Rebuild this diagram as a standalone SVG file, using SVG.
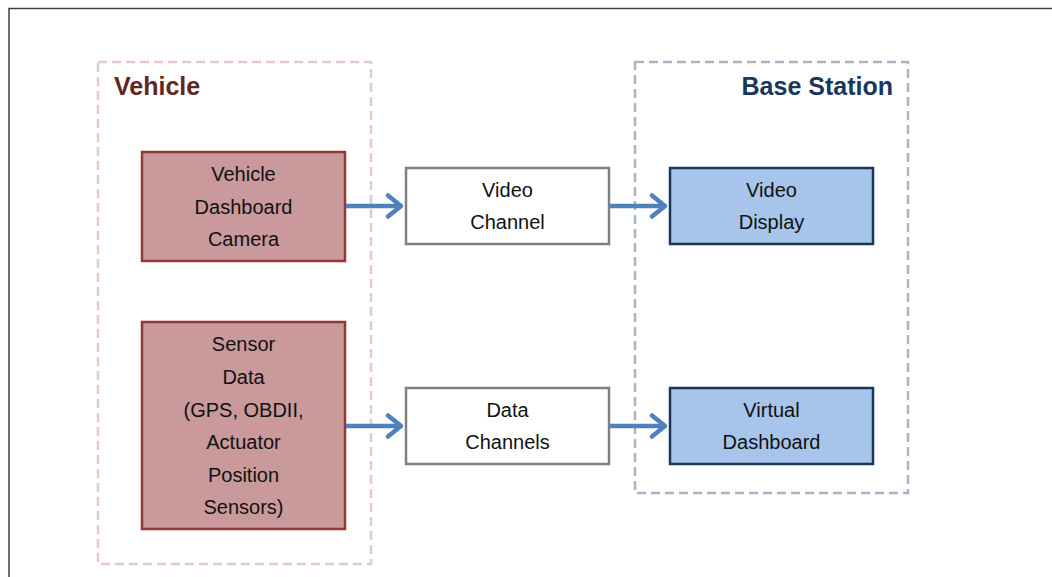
<svg xmlns="http://www.w3.org/2000/svg" width="1052" height="577" viewBox="0 0 1052 577">
  <defs>
    <marker id="chev" viewBox="0 0 12 12" refX="9" refY="6" markerWidth="12" markerHeight="12" markerUnits="userSpaceOnUse" orient="auto" overflow="visible">
      <path d="M-4,-4.5 L9,6 L-4,16.5" fill="none" stroke="#4f81bd" stroke-width="4.5" stroke-linecap="round" stroke-linejoin="round"/>
    </marker>
    <style>
      .frame { fill: none; stroke: #404040; stroke-width: 1.5; }
      .zone-veh { fill: none; stroke: #e6c9cc; stroke-width: 2.5; stroke-dasharray: 9 5; }
      .zone-base { fill: none; stroke: #a9b5c4; stroke-width: 2.5; stroke-dasharray: 9 5; }
      .src { fill: #c9999b; stroke: #953735; stroke-width: 2.5; }
      .chan { fill: #ffffff; stroke: #808080; stroke-width: 2.5; }
      .dst { fill: #a7c4ea; stroke: #1a3558; stroke-width: 2.5; }
      .lbl { font-family: "Liberation Sans", Arial, sans-serif; font-size: 20px; fill: #111111; text-anchor: middle; }
      .zone-title { font-family: "Liberation Sans", Arial, sans-serif; font-size: 25px; font-weight: bold; }
      .conn { fill: none; stroke: #4f81bd; stroke-width: 4.5; marker-end: url(#chev); }
    </style>
  </defs>

  <rect width="1052" height="577" fill="#ffffff"/>
  <!-- outer page frame, running off the right and bottom edges -->
  <path class="frame" d="M9,580 L9,8.5 L1055,8.5"/>

  <!-- grouping zones -->
  <g id="zone-vehicle">
    <rect class="zone-veh" x="98" y="62" width="273" height="502"/>
    <text class="zone-title" x="114" y="95" fill="#632523">Vehicle</text>
  </g>
  <g id="zone-base-station">
    <rect class="zone-base" x="635" y="62" width="273" height="431"/>
    <text class="zone-title" x="893" y="95" fill="#17375e" text-anchor="end">Base Station</text>
  </g>

  <!-- sources -->
  <g id="node-camera">
    <rect class="src" x="142" y="152" width="203" height="109"/>
    <text class="lbl" x="243.5" y="181">Vehicle</text>
    <text class="lbl" x="243.5" y="213.5">Dashboard</text>
    <text class="lbl" x="243.5" y="246">Camera</text>
  </g>
  <g id="node-sensors">
    <rect class="src" x="142" y="322" width="203" height="207"/>
    <text class="lbl" x="243.5" y="351">Sensor</text>
    <text class="lbl" x="243.5" y="384">Data</text>
    <text class="lbl" x="243.5" y="416.5">(GPS, OBDII,</text>
    <text class="lbl" x="243.5" y="449">Actuator</text>
    <text class="lbl" x="243.5" y="481.5">Position</text>
    <text class="lbl" x="243.5" y="514">Sensors)</text>
  </g>

  <!-- channels -->
  <g id="node-video-channel">
    <rect class="chan" x="406" y="168" width="203" height="76"/>
    <text class="lbl" x="507.5" y="196.5">Video</text>
    <text class="lbl" x="507.5" y="229">Channel</text>
  </g>
  <g id="node-data-channels">
    <rect class="chan" x="406" y="388" width="203" height="76"/>
    <text class="lbl" x="507.5" y="416.5">Data</text>
    <text class="lbl" x="507.5" y="449">Channels</text>
  </g>

  <!-- base station displays -->
  <g id="node-video-display">
    <rect class="dst" x="670" y="168" width="203" height="76"/>
    <text class="lbl" x="771.5" y="196.5">Video</text>
    <text class="lbl" x="771.5" y="229">Display</text>
  </g>
  <g id="node-virtual-dashboard">
    <rect class="dst" x="670" y="388" width="203" height="76"/>
    <text class="lbl" x="771.5" y="416.5">Virtual</text>
    <text class="lbl" x="771.5" y="449">Dashboard</text>
  </g>

  <!-- connectors -->
  <g id="connectors">
    <line class="conn" x1="346" y1="206" x2="401" y2="206"/>
    <line class="conn" x1="610" y1="206" x2="665" y2="206"/>
    <line class="conn" x1="346" y1="426" x2="401" y2="426"/>
    <line class="conn" x1="610" y1="426" x2="665" y2="426"/>
  </g>
</svg>
